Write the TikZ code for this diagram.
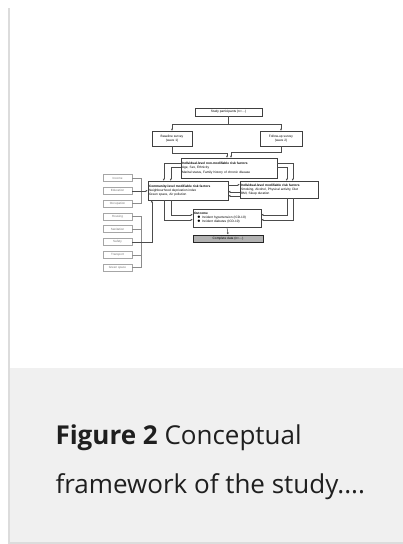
\documentclass[tikz,border=0pt]{standalone}
\usepackage{fontspec}
\setmainfont{Open Sans}
\newfontfamily\chartfont{Liberation Sans}
\usetikzlibrary{arrows.meta,positioning,calc}
\definecolor{band}{HTML}{F0F0F0}
\definecolor{rim}{HTML}{DCDCDC}
\tikzset{%
  % boxes
  box/.style={draw=black!75, line width=0.5pt, inner sep=1pt,
    font=\chartfont\fontsize{3.2}{4.2}\selectfont},
  cbox/.style={box, align=center},
  lbox/.style={box, align=left},
  var/.style={draw=black!35, line width=0.5pt, minimum width=29pt, minimum height=7pt,
    inner sep=0.5pt, text=black!55, font=\chartfont\fontsize{3}{3.5}\selectfont},
  final/.style={box, fill=black!30, draw=black!85, line width=0.8pt},
  % edges
  rel/.style={-{Latex[length=2pt,width=2pt]}, draw=black!70, line width=0.5pt},
  link/.style={draw=black!70, line width=0.5pt},
  varlink/.style={draw=black!45, line width=0.5pt},
  caption/.style={anchor=base west, text=black!88, font=\fontsize{26}{49}\selectfont},
}

\begin{document}
\begin{tikzpicture}[x=1pt, y=-1pt]
  \useasboundingbox (0,0) rectangle (403,544);
  % card
  \fill[white] (0,0) rectangle (403,544);
  \fill[band] (10,368) rectangle (403,542);
  \fill[rim] (8,8) rectangle (10,544);
  \fill[rim] (8,542) rectangle (403,544);

  % Study sample
  \node[cbox, minimum width=67pt, minimum height=8pt] (study) at (228.5,112)
    {Study participants (n=\dots)};
  \node[cbox, minimum width=40pt, minimum height=15pt] (base) at (172,138.5)
    {Baseline survey\\(wave 1)};
  \node[cbox, minimum width=42pt, minimum height=15pt] (follow) at (281,138.5)
    {Follow-up survey\\(wave 2)};

  % Risk factors
  \node[lbox, text width=94pt, minimum height=20pt] (nonmod) at (229,168)
    {\textbf{Individual-level non-modifiable risk factors}\\
     Age, Sex, Ethnicity\\
     Marital status, Family history of chronic disease};
  \node[lbox, text width=78pt, minimum height=19pt] (commod) at (188,190.5)
    {\textbf{Community-level modifiable risk factors}\\
     Neighbourhood deprivation index\\
     Green space, Air pollution};
  \node[lbox, text width=76pt, minimum height=17pt] (indmod) at (279,189.5)
    {\textbf{Individual-level modifiable risk factors}\\
     Smoking, Alcohol, Physical activity, Diet\\
     BMI, Sleep duration};

  % Outcome
  \node[lbox, text width=66pt, minimum height=18pt] (outcome) at (227,218)
    {\textbf{Outcome}\\
     \quad $\bullet$ Incident hypertension (ICD-10)\\
     \quad $\bullet$ Incident diabetes (ICD-10)};
  \node[final, minimum width=70pt, minimum height=7pt] (complete) at (228,238.5)
    {Complete data (n=\dots)};

  % Community variables
  \node[var] (vincome) at (117.5,178) {Income};
  \node[var, below=5.3pt of vincome] (veduc) {Education};
  \node[var, below=5.3pt of veduc] (voccup) {Occupation};
  \node[var, below=5.3pt of voccup] (vhouse) {Housing};
  \node[var, below=5.3pt of vhouse] (vsanit) {Sanitation};
  \node[var, below=5.3pt of vsanit] (vsafe) {Safety};
  \node[var, below=5.3pt of vsafe] (vtrans) {Transport};
  \node[var, below=5.3pt of vtrans] (vgreen) {Green space};

  % Links
  \coordinate (split) at ($(study.south)+(0,8)$);
  \draw[link] (study.south) -- (split);
  \draw[rel] (split) -| (base.north);
  \draw[rel] (split) -| (follow.north);
  \draw[rel] (base.south) -- ++(0,7) -| ([xshift=-2pt]nonmod.north);
  \draw[rel] (follow.south) -- ++(0,6) -| ([xshift=2pt]nonmod.north);

  \draw[rel] ([yshift=-5pt]nonmod.north west) -| ([xshift=16pt]commod.north west);
  \draw[rel] ([yshift=-9pt]nonmod.north west) -| ([xshift=23pt]commod.north west);
  \draw[rel] ([yshift=-5pt]nonmod.north east) -| ([xshift=53pt]indmod.north west);
  \draw[rel] ([yshift=-9pt]nonmod.north east) -| ([xshift=47pt]indmod.north west);

  \draw[rel] ([yshift=-4pt]commod.north east) -- ([yshift=-4pt]commod.north east -| indmod.west);
  \draw[rel] ([yshift=-11pt]indmod.north west) -- ([yshift=-11pt]indmod.north west -| commod.east);
  \draw[rel] ([yshift=-15pt]indmod.north west) -- ([yshift=-15pt]indmod.north west -| commod.east);

  \draw[rel] ([xshift=16pt]commod.south west) |- ([yshift=-11pt]outcome.north west);
  \draw[rel] ([xshift=23pt]commod.south west) |- ([yshift=-6pt]outcome.north west);
  \draw[rel] ([xshift=53pt]indmod.south west) |- ([yshift=-11pt]outcome.north east);
  \draw[rel] ([xshift=47pt]indmod.south west) |- ([yshift=-6pt]outcome.north east);

  \draw[rel] (outcome.south) -- (complete.north);

  \draw[varlink] (vincome.east) -- ++(9,0) |- (voccup.east);
  \draw[rel] (veduc.east) -- (veduc.east -| commod.west);
  \draw[varlink] (vhouse.east) -- ++(9,0) |- (vgreen.east);
  \draw[varlink] (vsanit.east) -- ++(9,0);
  \draw[varlink] (vtrans.east) -- ++(9,0);
  \draw[rel] (vsafe.east) -| ([xshift=4pt]commod.south west);

  % Caption
  \node[caption] (capone) at (52,444) {\textbf{Figure 2} Conceptual};
  \node[caption] (captwo) at (52,493) {framework of the study....};
\end{tikzpicture}
\end{document}
